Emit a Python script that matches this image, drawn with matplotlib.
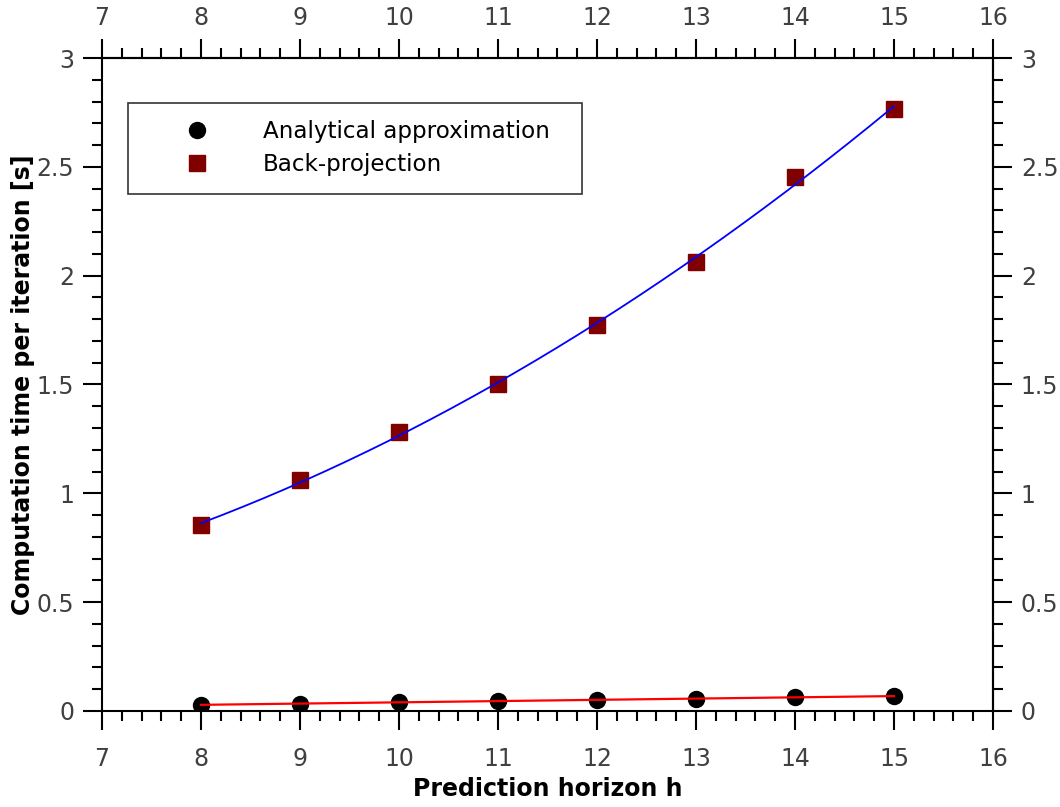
import numpy as np
import matplotlib
matplotlib.use("Agg")
import matplotlib.pyplot as plt
from matplotlib.ticker import MultipleLocator, FixedLocator, FuncFormatter
from matplotlib.lines import Line2D

horizon = [8, 9, 10, 11, 12, 13, 14, 15]
analytical = [0.029, 0.034, 0.040, 0.045, 0.050, 0.055, 0.063, 0.070]
backproj = [0.853, 1.06, 1.28, 1.50, 1.775, 2.064, 2.454, 2.766]
x_ticks = [7, 8, 9, 10, 11, 12, 13, 14, 15, 16]
y_ticks = [0, 0.5, 1, 1.5, 2, 2.5, 3]

plt.rcParams['font.family'] = ['DejaVu Sans']

fig = plt.figure(figsize=(10.6, 8.07), dpi=100)
ax = fig.add_axes([0.0962, 0.119, 0.8406, 0.8091])

h = np.array(horizon, dtype=float)
xs = np.linspace(h.min(), h.max(), 200)
pb = np.polyfit(h, backproj, 2)
pa = np.polyfit(h, analytical, 1)

ax.plot(h, analytical, 'o', color='black', markersize=11.5, zorder=3)
ax.plot(h, backproj, 's', color='#800000', markersize=11.5, zorder=3)
ax.plot(xs, np.polyval(pb, xs), color='#0000ff', lw=1.3, zorder=4)
ax.plot(xs, np.polyval(pa, xs), color='#ff0000', lw=1.6, zorder=4)

ax.set_xlim(7, 16)
ax.set_ylim(0, 3)

fmt = FuncFormatter(lambda v, p: f"{v:g}")
LBL = 17
TC = '#404040'


def style_x(axis_obj):
    axis_obj.set_major_locator(FixedLocator(x_ticks))
    axis_obj.set_minor_locator(MultipleLocator(0.2))
    axis_obj.set_major_formatter(fmt)


def style_y(axis_obj):
    axis_obj.set_major_locator(FixedLocator(y_ticks))
    axis_obj.set_minor_locator(MultipleLocator(0.1))
    axis_obj.set_major_formatter(fmt)


style_x(ax.xaxis)
style_y(ax.yaxis)

for s in ax.spines.values():
    s.set_linewidth(1.5)
ax.tick_params(which='both', direction='out', top=False, right=False,
               width=1.5, color='black')
ax.tick_params(which='major', length=14, labelsize=LBL, labelcolor=TC)
ax.tick_params(which='minor', length=7.5)
ax.tick_params(axis='x', which='major', pad=12)
ax.tick_params(axis='y', which='major', pad=6)

secx = ax.secondary_xaxis('top')
style_x(secx.xaxis)
secx.tick_params(which='both', direction='out', width=1.5, color='black')
secx.tick_params(which='major', length=14, labelsize=LBL, labelcolor=TC, pad=6)
secx.tick_params(which='minor', length=7.5)
secx.spines['top'].set_linewidth(1.5)

secy = ax.secondary_yaxis('right')
style_y(secy.yaxis)
secy.tick_params(which='both', direction='out', width=1.5, color='black')
secy.tick_params(which='major', length=14, labelsize=LBL, labelcolor=TC, pad=6)
secy.tick_params(which='minor', length=7.5)
secy.spines['right'].set_linewidth(1.5)

ax.set_xlabel('Prediction horizon h', fontsize=17, fontweight='bold', labelpad=4)
ax.set_ylabel('Computation time per iteration [s]', fontsize=17, fontweight='bold',
              labelpad=1)

handles = [Line2D([], [], ls='none', marker='o', color='black', markersize=11.5),
           Line2D([], [], ls='none', marker='s', color='#800000', markersize=11.5)]
leg = ax.legend(handles, ['Analytical approximation', 'Back-projection'],
                loc='upper left', bbox_to_anchor=(0.029, 0.798, 0.51, 0.133),
                mode='expand', fontsize=16.6, frameon=True, fancybox=False,
                edgecolor='black', borderpad=0.75, handletextpad=0.62,
                handlelength=4.5, labelspacing=0.43, borderaxespad=0)
leg.get_frame().set_linewidth(1.2)

fig.savefig('out.png', dpi=100)
